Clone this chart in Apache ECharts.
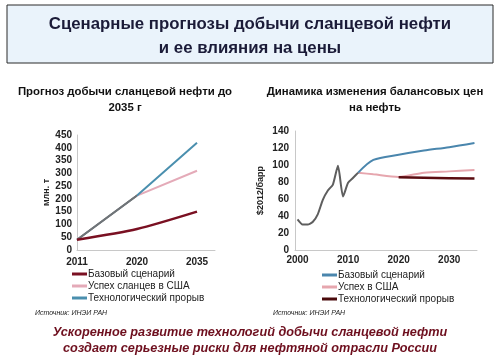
<!DOCTYPE html>
<html>
<head>
<meta charset="utf-8">
<script src="https://cdn.jsdelivr.net/npm/echarts@6/dist/echarts.min.js"></script>
<style>html,body{margin:0;padding:0;background:#fff;}#c{width:500px;height:362px;}</style>
</head>
<body>
<div id="c"></div>
<script>
// ---- Left chart data ----
var leftCats = ['2011', '2020', '2035'];
var leftBase = [40, 82, 150];
var leftShale = [40, 213, 310];
var leftTech = [40, 213, 420];
var leftTicks = [0, 50, 100, 150, 200, 250, 300, 350, 400, 450];

// ---- Right chart data ----
var rightYears = ['2000','2001','2002','2003','2004','2005','2006','2007','2008','2009',
  '2010','2011','2012','2013','2014','2015','2016','2017','2018','2019',
  '2020','2021','2022','2023','2024','2025','2026','2027','2028','2029',
  '2030','2031','2032','2033','2034','2035'];
var histYears = ['2000','2001','2002','2003','2004','2005','2006','2007','2008','2009','2010','2011','2012'];
var histPrice = [36, 30, 30, 33, 42, 59, 70, 77, 99, 63, 79, 85, 91];
var scenYears = ['2012', '2015', '2020', '2025', '2030', '2035'];
var rightBase = [91, 106, 112, 117, 121, 126];
var rightUS = [91, 89, 86, 91, 92.5, 94];
var techYears = ['2020', '2025', '2030', '2035'];
var rightTech = [85.5, 85, 84.5, 84];

var P = 'R|';
function pairs(xs, ys) { return xs.map(function (x, i) { return [rightYears.indexOf(x), ys[i]]; }); }
function idxPairs(ys) { return ys.map(function (y, i) { return [i, y]; }); }
// shared 2011-2020 segment is drawn grey (overlap of the two scenarios)
function splitGrad(c) {
  return new echarts.graphic.LinearGradient(0, 0, 1, 0, [
    { offset: 0, color: '#6f7478' }, { offset: 0.5, color: '#6f7478' },
    { offset: 0.5, color: c }, { offset: 1, color: c }]);
}

var chart = echarts.init(document.getElementById('c'));
var FONT = 'Liberation Sans, Arial, sans-serif';
var lblStyle = { color: '#222', fontSize: 10, fontWeight: 'bold', fontFamily: FONT };
var axLine = { show: true, lineStyle: { color: '#c8c8c8', width: 1 } };

function txt(x, y, t, font, fill) {
  return { type: 'text', x: x, y: y, silent: true,
    style: { text: t, font: font, fill: fill, textAlign: 'center', textVerticalAlign: 'middle' } };
}
function ltxt(x, y, t, font, fill) {
  return { type: 'text', x: x, y: y, silent: true,
    style: { text: t, font: font, fill: fill, textAlign: 'left', textVerticalAlign: 'middle' } };
}

var option = {
  backgroundColor: '#fff',
  animation: false,
  graphic: [
    { type: 'rect', shape: { x: 7, y: 5, width: 486, height: 58 },
      style: { fill: '#eaf3fb', stroke: '#2a2a2a', lineWidth: 1 }, silent: true },
    txt(250, 24, 'Сценарные прогнозы добычи сланцевой нефти', 'bold 16.8px ' + FONT, '#1b1b38'),
    txt(250, 48, 'и ее влияния на цены', 'bold 16.8px ' + FONT, '#1b1b38'),
    txt(125, 92, 'Прогноз добычи сланцевой нефти до', 'bold 11.4px ' + FONT, '#111'),
    txt(125, 108, '2035 г', 'bold 11.4px ' + FONT, '#111'),
    txt(375, 92, 'Динамика изменения балансовых цен', 'bold 11.4px ' + FONT, '#111'),
    txt(375, 108, 'на нефть', 'bold 11.4px ' + FONT, '#111'),
    ltxt(35, 313, 'Источник: ИНЭИ РАН', 'italic 7px ' + FONT, '#222'),
    ltxt(273, 313, 'Источник: ИНЭИ РАН', 'italic 7px ' + FONT, '#222'),
    txt(250, 332, 'Ускоренное развитие технологий добычи сланцевой нефти', 'italic bold 12.7px ' + FONT, '#6e0f1e'),
    txt(250, 348, 'создает серьезные риски для нефтяной отрасли России', 'italic bold 12.7px ' + FONT, '#6e0f1e')
  ],
  legend: [
    { orient: 'vertical', left: 67, top: 264, itemGap: 2, itemWidth: 15, itemHeight: 3, icon: 'rect',
      textStyle: { fontSize: 10, color: '#222', fontFamily: FONT, padding: [0, 0, 0, -4] },
      data: ['Базовый сценарий', 'Успех сланцев в США', 'Технологический прорыв'] },
    { orient: 'vertical', left: 317, top: 265, itemGap: 2, itemWidth: 15, itemHeight: 3, icon: 'rect',
      textStyle: { fontSize: 10, color: '#222', fontFamily: FONT, padding: [0, 0, 0, -4] },
      formatter: function (n) { return n.replace(P, ''); },
      data: [P + 'Базовый сценарий', P + 'Успех в США', P + 'Технологический прорыв'] }
  ],
  grid: [
    { left: 77, top: 135, width: 138, height: 115 },
    { left: 295, top: 131, width: 182, height: 119 }
  ],
  xAxis: [
    { gridIndex: 0, type: 'value', min: 0, max: 2.3, interval: 1,
      axisLine: axLine, axisTick: { show: false }, splitLine: { show: false },
      axisLabel: Object.assign({ margin: 7, showMaxLabel: false,
        formatter: function (v) { return Math.round(v) === v && leftCats[v] !== undefined ? leftCats[v] : ''; } }, lblStyle) },
    { gridIndex: 1, type: 'category', data: rightYears, boundaryGap: true,
      axisLine: axLine, axisTick: { show: false }, splitLine: { show: false },
      axisLabel: Object.assign({ interval: 9, margin: 5 }, lblStyle) }
  ],
  yAxis: [
    { gridIndex: 0, type: 'value', min: leftTicks[0], max: leftTicks[leftTicks.length - 1], interval: 50,
      name: 'млн. т', nameLocation: 'middle', nameRotate: 90, nameGap: 25,
      nameTextStyle: { fontSize: 9, fontWeight: 'bold', color: '#222', fontFamily: FONT },
      axisLine: axLine, axisTick: { show: false }, splitLine: { show: false },
      axisLabel: Object.assign({ margin: 5 }, lblStyle) },
    { gridIndex: 1, type: 'value', min: 0, max: 140, interval: 20,
      name: '$2012/барр', nameLocation: 'middle', nameRotate: 90, nameGap: 30,
      nameTextStyle: { fontSize: 9, fontWeight: 'bold', color: '#222', fontFamily: FONT },
      axisLine: axLine, axisTick: { show: false }, splitLine: { show: false },
      axisLabel: Object.assign({ margin: 6 }, lblStyle) }
  ],
  series: [
    { name: 'Базовый сценарий', type: 'line', xAxisIndex: 0, yAxisIndex: 0, smooth: 0.25,
      symbol: 'none', color: '#7a1022', lineStyle: { width: 2.5, color: '#7a1022' }, z: 4,
      data: idxPairs(leftBase) },
    { name: 'Успех сланцев в США', type: 'line', xAxisIndex: 0, yAxisIndex: 0,
      symbol: 'none', color: '#e4aab8', lineStyle: { width: 2, color: splitGrad('#e4aab8') }, z: 2,
      data: idxPairs(leftShale) },
    { name: 'Технологический прорыв', type: 'line', xAxisIndex: 0, yAxisIndex: 0,
      symbol: 'none', color: '#4a8fae', lineStyle: { width: 2, color: splitGrad('#4a8fae') }, z: 3,
      data: idxPairs(leftTech) },
    { name: 'history', type: 'line', xAxisIndex: 1, yAxisIndex: 1, smooth: 0.2,
      symbol: 'none', color: '#5e5e5e', lineStyle: { width: 2, color: '#5e5e5e' }, z: 3,
      data: pairs(histYears, histPrice) },
    { name: P + 'Базовый сценарий', type: 'line', xAxisIndex: 1, yAxisIndex: 1, smooth: 0.3,
      symbol: 'none', color: '#4a86ad', lineStyle: { width: 2, color: '#4a86ad' }, z: 3,
      data: pairs(scenYears, rightBase) },
    { name: P + 'Успех в США', type: 'line', xAxisIndex: 1, yAxisIndex: 1, smooth: 0.3,
      symbol: 'none', color: '#e6a6ae', lineStyle: { width: 2, color: '#e6a6ae' }, z: 2,
      data: pairs(scenYears, rightUS) },
    { name: P + 'Технологический прорыв', type: 'line', xAxisIndex: 1, yAxisIndex: 1,
      symbol: 'none', color: '#4a0a0c', lineStyle: { width: 2.5, color: '#5a0b10' }, z: 4,
      data: pairs(techYears, rightTech) }
  ]
};
chart.setOption(option);
</script>
</body>
</html>
